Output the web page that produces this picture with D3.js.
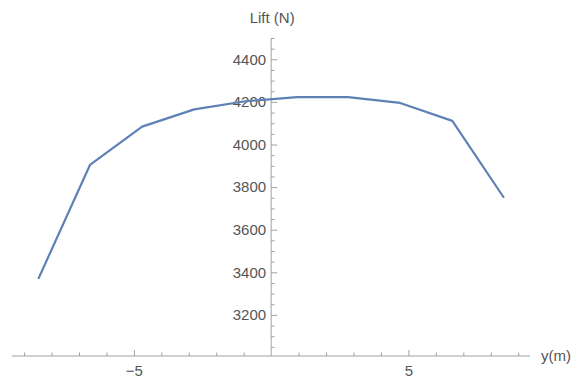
<!DOCTYPE html>
<html>
<head>
<meta charset="utf-8">
<script src="https://cdn.jsdelivr.net/npm/d3@7"></script>
<style>
  html, body { margin: 0; padding: 0; background: #fff; }
  text { font-family: "Liberation Sans", Arial, sans-serif; }
</style>
</head>
<body>
<svg id="chart" width="574" height="381"></svg>
<script>
// Data
const spanPositions = [-8.48, -6.6, -4.7, -2.8, -0.94, 0.94, 2.8, 4.7, 6.6, 8.48];
const liftValues = [3369, 3904, 4084, 4165, 4203, 4222, 4222, 4195, 4111, 3750];
const xMajorTicks = [-5, 5];
const xMinorTicks = [-9, -8, -7, -6, -4, -3, -2, -1, 1, 2, 3, 4, 6, 7, 8, 9];
const yMajorTicks = [3200, 3400, 3600, 3800, 4000, 4200, 4400];
const yMinorTicks = d3.range(3050, 4501, 50).filter(v => v % 200 !== 0);
const xLabel = "y(m)";
const yLabel = "Lift (N)";

const svg = d3.select("#chart");
const axisColor = "#a0a0a0";
const textColor = "#555555";
const fontSize = 15;

const x = d3.scaleLinear().domain([-9.44, 9.43]).range([12, 530]);
const y = d3.scaleLinear().domain([3000, 4500]).range([357.5, 38]);
const xAxisY = 356;
const yAxisX = x(0);

// X axis
const gx = svg.append("g").attr("transform", `translate(0,${xAxisY})`);
gx.append("line").attr("x1", x.range()[0]).attr("x2", x.range()[1])
  .attr("stroke", axisColor).attr("stroke-width", 1);
const xMinAxis = d3.axisBottom(x).tickValues(xMinorTicks).tickSize(-3.5).tickFormat("");
const gxMin = gx.append("g").call(xMinAxis);
const xMajAxis = d3.axisBottom(x).tickValues(xMajorTicks).tickSize(-6).tickPadding(9)
  .tickFormat(d => d < 0 ? "\u2212" + Math.abs(d) : String(d));
const gxMaj = gx.append("g").call(xMajAxis);
[gxMin, gxMaj].forEach(g => {
  g.select(".domain").remove();
  g.selectAll(".tick line").attr("stroke", axisColor);
  g.selectAll(".tick text").attr("fill", textColor).attr("font-size", fontSize)
    .attr("font-family", "Liberation Sans, Arial, sans-serif");
});

// Y axis
const gy = svg.append("g").attr("transform", `translate(${yAxisX},0)`);
gy.append("line").attr("y1", xAxisY).attr("y2", y(4500))
  .attr("stroke", axisColor).attr("stroke-width", 1);
const yMinAxis = d3.axisLeft(y).tickValues(yMinorTicks).tickSize(-3.5).tickFormat("");
const gyMin = gy.append("g").call(yMinAxis);
const yMajAxis = d3.axisLeft(y).tickValues(yMajorTicks).tickSize(-6).tickPadding(5)
  .tickFormat(d3.format("d"));
const gyMaj = gy.append("g").call(yMajAxis);
[gyMin, gyMaj].forEach(g => {
  g.select(".domain").remove();
  g.selectAll(".tick line").attr("stroke", axisColor);
  g.selectAll(".tick text").attr("fill", textColor).attr("font-size", fontSize)
    .attr("font-family", "Liberation Sans, Arial, sans-serif");
});

// Axis labels
svg.append("text").attr("x", yAxisX + 1).attr("y", 23).attr("text-anchor", "middle")
  .attr("fill", textColor).attr("font-size", fontSize).text(yLabel);
svg.append("text").attr("x", 541).attr("y", xAxisY + 5).attr("text-anchor", "start")
  .attr("fill", textColor).attr("font-size", fontSize).text(xLabel);

// Line
const data = spanPositions.map((v, i) => ({ x: v, y: liftValues[i] }));
const line = d3.line().x(d => x(d.x)).y(d => y(d.y));
svg.append("path").datum(data).attr("d", line)
  .attr("fill", "none").attr("stroke", "#5E81B5").attr("stroke-width", 2.2)
  .attr("stroke-linejoin", "round");
</script>
</body>
</html>
